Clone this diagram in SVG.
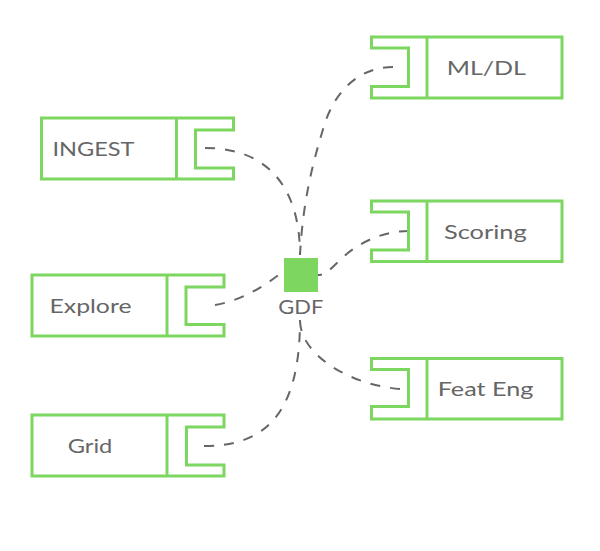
<svg xmlns="http://www.w3.org/2000/svg" width="600" height="551" viewBox="0 0 600 551">
<style>
.box{fill:none;stroke:#7dd660;stroke-width:3}
.lbl{font-family:"Lato","Open Sans","Liberation Sans",sans-serif;font-size:20px;fill:#666}
.edge{fill:none;stroke:#666;stroke-width:2;stroke-dasharray:10,10}
</style>
<rect width="600" height="551" fill="#fff"/>
<g id="connectors">
<path class="edge" d="M205,148 C270,148 300,190 300,255"/>
<path class="edge" d="M393,67 C360,67 335,90 324,126 S303,200 300,255"/>
<path class="edge" d="M409,231 C375,231 350,250 340,260 S325,275 318,275"/>
<path class="edge" d="M215,305 C245,300 270,282 285,270"/>
<path class="edge" d="M204,446 C260,446 300,420 300,320"/>
<path class="edge" d="M400,389 C350,385 300,355 300,320"/>
</g>
<g id="ingest">
<path class="box" d="M41.5,118 H233.5 V130 H195.5 V168 H233.5 V179 H41.5 Z"/>
<line class="box" x1="176.5" y1="118" x2="176.5" y2="179"/>
<text class="lbl" x="52.5" y="156" textLength="82" lengthAdjust="spacingAndGlyphs">INGEST</text>
</g>
<g id="explore">
<path class="box" d="M32,275 H224 V287 H186 V324.5 H224 V336 H32 Z"/>
<line class="box" x1="167" y1="275" x2="167" y2="336"/>
<text class="lbl" x="49.5" y="312.7" textLength="82" lengthAdjust="spacingAndGlyphs">Explore</text>
</g>
<g id="grid">
<path class="box" d="M32,415 H224 V427 H186.5 V465 H224 V476 H32 Z"/>
<line class="box" x1="167" y1="415" x2="167" y2="476"/>
<text class="lbl" x="67.7" y="452.5" textLength="44.7" lengthAdjust="spacingAndGlyphs">Grid</text>
</g>
<g id="mldl">
<path class="box" d="M562,37 H371.5 V48 H408.5 V86.5 H371.5 V98 H562 Z"/>
<line class="box" x1="427" y1="37" x2="427" y2="98"/>
<text class="lbl" x="446.7" y="75" textLength="79.3" lengthAdjust="spacingAndGlyphs">ML/DL</text>
</g>
<g id="scoring">
<path class="box" d="M562,201 H371.5 V212 H408.5 V250 H371.5 V261.5 H562 Z"/>
<line class="box" x1="427" y1="201" x2="427" y2="261.5"/>
<text class="lbl" x="444" y="238.5" textLength="82.7" lengthAdjust="spacingAndGlyphs">Scoring</text>
</g>
<g id="feateng">
<path class="box" d="M562,358.5 H371.5 V369.5 H408.5 V406.5 H371.5 V419 H562 Z"/>
<line class="box" x1="427" y1="358.5" x2="427" y2="419"/>
<text class="lbl" x="437.7" y="395.5" textLength="95.7" lengthAdjust="spacingAndGlyphs">Feat Eng</text>
</g>
<g id="gdf">
<rect x="284" y="258" width="34" height="34" fill="#7dd660"/>
<text class="lbl" x="278.3" y="314" textLength="45" lengthAdjust="spacingAndGlyphs">GDF</text>
</g>
</svg>
